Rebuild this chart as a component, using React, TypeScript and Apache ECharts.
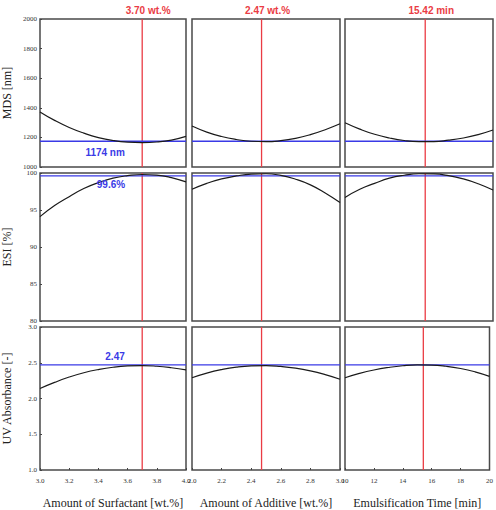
import React, { useEffect, useRef } from "react";
import * as echarts from "echarts";

// Factor levels (x)
const surfactantX = [3.0, 3.1, 3.2, 3.3, 3.4, 3.5, 3.6, 3.7, 3.8, 3.9, 4.0];
const additiveX = [2.0, 2.1, 2.2, 2.3, 2.4, 2.5, 2.6, 2.7, 2.8, 2.9, 3.0];
const timeX = [10, 11, 12, 13, 14, 15, 16, 17, 18, 19, 20];

// MDS [nm]
const mdsSurfactant = [1372, 1315, 1267, 1229, 1199, 1179, 1168, 1165, 1169, 1182, 1207];
const mdsAdditive = [1277, 1236, 1206, 1186, 1174, 1171, 1178, 1194, 1219, 1252, 1292];
const mdsTime = [1299, 1256, 1221, 1196, 1179, 1172, 1172, 1181, 1196, 1219, 1250];

// ESI [%]
const esiSurfactant = [94.1, 95.6, 96.8, 97.9, 98.7, 99.3, 99.64, 99.8, 99.72, 99.38, 98.8];
const esiAdditive = [97.8, 98.6, 99.2, 99.6, 99.85, 99.9, 99.67, 99.16, 98.4, 97.3, 96.0];
const esiTime = [96.7, 97.8, 98.6, 99.3, 99.7, 99.9, 99.87, 99.64, 99.2, 98.55, 97.7];

// UV Absorbance [-]
const uvSurfactant = [2.14, 2.225, 2.3, 2.36, 2.405, 2.437, 2.455, 2.46, 2.451, 2.43, 2.4];
const uvAdditive = [2.29, 2.355, 2.404, 2.438, 2.456, 2.46, 2.448, 2.424, 2.386, 2.334, 2.27];
const uvTime = [2.29, 2.351, 2.399, 2.434, 2.458, 2.469, 2.467, 2.451, 2.42, 2.373, 2.31];

// Optimum settings
const optimumX = [3.7, 2.47, 15.42];
const optimumXLabels = ["3.70 wt.%", "2.47 wt.%", "15.42 min"];
const optimumY = [1174, 99.6, 2.47];
const optimumYLabels = ["1174 nm", "99.6%", "2.47"];
const optimumYLabelPos: [number, number][] = [
  [3.446, 1101],
  [3.486, 98.5],
  [3.514, 2.584],
];

const xNames = ["Amount of Surfactant [wt.%]", "Amount of Additive [wt.%]", "Emulsification Time [min]"];
const yNames = ["MDS [nm]", "ESI [%]", "UV Absorbance [-]"];
const xRanges: [number, number, number][] = [
  [3.0, 4.0, 0.2],
  [2.0, 3.0, 0.2],
  [10, 20, 2],
];
const yRanges: [number, number, number][] = [
  [1000, 2000, 200],
  [80, 100, 5],
  [1.0, 3.0, 0.5],
];

const xs = [surfactantX, additiveX, timeX];
const ys = [
  [mdsSurfactant, mdsAdditive, mdsTime],
  [esiSurfactant, esiAdditive, esiTime],
  [uvSurfactant, uvAdditive, uvTime],
];

const colLeft = [38, 192, 345];
const colWidth = 148;
const rowTop = [19, 173, 327];
const rowHeight = [148, 148, 149];

const SERIF = "'Liberation Serif', 'DejaVu Serif', serif";
const SANS = "'Liberation Sans', Arial, sans-serif";
const RED = "#ea3c44";
const BLUE = "#3a3ae6";

export default function App() {
  const ref = useRef<HTMLDivElement>(null);
  useEffect(() => {
    if (!ref.current) return;
    const chart = echarts.init(ref.current, null, { renderer: "svg" });
    const grid: any[] = [];
    const xAxis: any[] = [];
    const yAxis: any[] = [];
    const series: any[] = [];
    for (let r = 0; r < 3; r++) {
      for (let c = 0; c < 3; c++) {
        const i = r * 3 + c;
        grid.push({
          left: colLeft[c],
          top: rowTop[r],
          width: colWidth,
          height: rowHeight[r],
          show: true,
          borderColor: "#4a4a4a",
          borderWidth: 1.5,
          backgroundColor: "#fff",
        });
        const [xmin, xmax, xint] = xRanges[c];
        xAxis.push({
          type: "value",
          gridIndex: i,
          min: xmin,
          max: xmax,
          interval: xint,
          axisLine: { show: false },
          axisTick: { show: r === 2, inside: true, length: 2, lineStyle: { color: "#444" } },
          splitLine: { show: false },
          axisLabel: {
            show: r === 2,
            fontFamily: SERIF,
            fontSize: 7,
            color: "#333",
            margin: 7,
            formatter: (v: number) => (c === 2 ? String(Math.round(v)) : v.toFixed(1)),
          },
          name: r === 2 ? xNames[c] : "",
          nameLocation: "middle",
          nameGap: 27,
          nameTextStyle: { fontFamily: SERIF, fontSize: 12, color: "#222" },
        });
        const [ymin, ymax, yint] = yRanges[r];
        yAxis.push({
          type: "value",
          gridIndex: i,
          min: ymin,
          max: ymax,
          interval: yint,
          axisLine: { show: false },
          axisTick: { show: c === 0, inside: true, length: 2, lineStyle: { color: "#444" } },
          splitLine: { show: false },
          axisLabel: {
            show: c === 0,
            fontFamily: SERIF,
            fontSize: 7,
            color: "#333",
            margin: 3,
            formatter: (v: number) => (r === 2 ? v.toFixed(1) : String(v)),
          },
          name: c === 0 ? yNames[r] : "",
          nameLocation: "middle",
          nameGap: 27,
          nameRotate: 90,
          nameTextStyle: { fontFamily: SERIF, fontSize: 12, color: "#222" },
        });
        const data = xs[c].map((x, k) => [x, ys[r][c][k]]);

        // red vertical optimum line
        const red: any = {
          type: "line",
          xAxisIndex: i,
          yAxisIndex: i,
          data: [
            [optimumX[c], ymin],
            [optimumX[c], ymax],
          ],
          showSymbol: false,
          symbol: "none",
          color: RED,
          itemStyle: { color: RED },
          lineStyle: { color: RED, width: 1.3 },
          silent: true,
          z: 2,
        };
        if (r === 0) {
          red.markPoint = {
            symbol: "circle",
            symbolSize: 0,
            silent: true,
            data: [
              {
                coord: [optimumX[c], ymax],
                label: {
                  show: true,
                  position: "inside",
                  offset: [6, -9],
                  formatter: optimumXLabels[c],
                  color: RED,
                  fontFamily: SANS,
                  fontWeight: "bold",
                  fontSize: 10,
                },
              },
            ],
          };
        }
        series.push(red);
        // blue horizontal optimum response line
        series.push({
          type: "line",
          xAxisIndex: i,
          yAxisIndex: i,
          data: [
            [xmin, optimumY[r]],
            [xmax, optimumY[r]],
          ],
          showSymbol: false,
          symbol: "none",
          color: BLUE,
          itemStyle: { color: BLUE },
          lineStyle: { color: BLUE, width: 1.3 },
          silent: true,
          z: 2,
        });
        const s: any = {
          type: "line",
          xAxisIndex: i,
          yAxisIndex: i,
          data,
          smooth: true,
          showSymbol: false,
          symbol: "none",
          color: "#1a1a1a",
          lineStyle: { color: "#1a1a1a", width: 1.2 },
          silent: true,
          z: 3,
        };
        if (c === 0) {
          s.markPoint = {
            symbol: "circle",
            symbolSize: 0,
            silent: true,
            data: [
              {
                coord: optimumYLabelPos[r],
                label: {
                  show: true,
                  position: "inside",
                  formatter: optimumYLabels[r],
                  color: BLUE,
                  fontFamily: SANS,
                  fontWeight: "bold",
                  fontSize: 10,
                },
              },
            ],
          };
        }
        series.push(s);
      }
    }
    chart.setOption({
      animation: false,
      backgroundColor: "#fff",
      grid,
      xAxis,
      yAxis,
      series,
    });
    return () => chart.dispose();
  }, []);
  return (
    <div
      ref={ref}
      style={{ position: "fixed", left: 0, top: 0, width: 496, height: 510, background: "#fff" }}
    />
  );
}
